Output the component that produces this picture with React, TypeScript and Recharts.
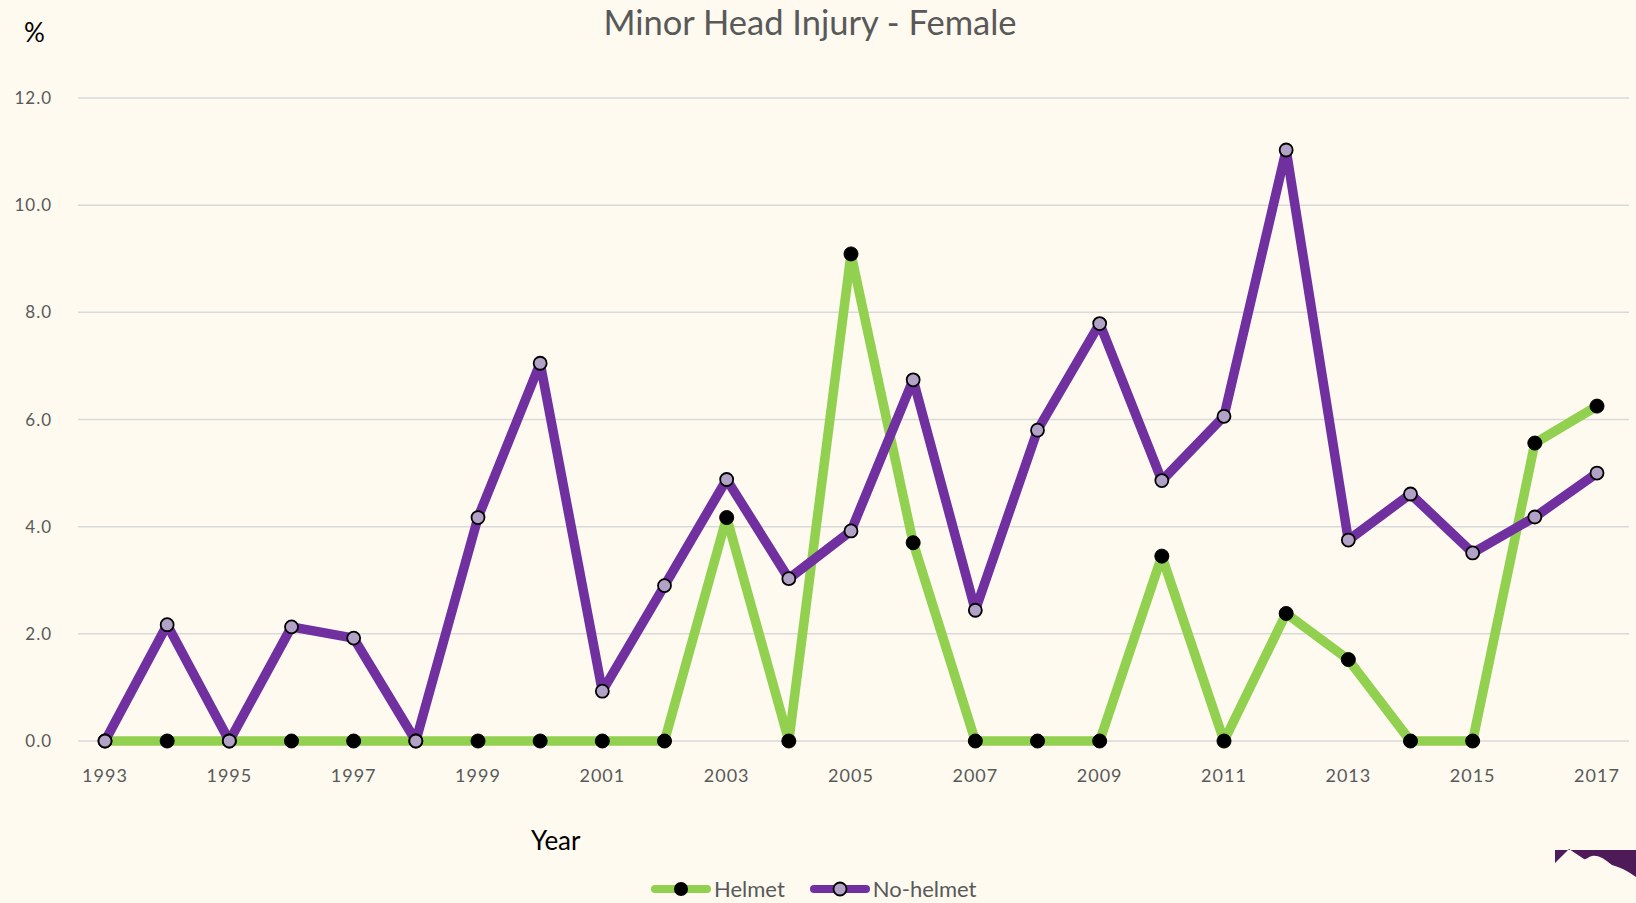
import React from 'react';
import { LineChart, Line, XAxis, YAxis, CartesianGrid } from 'recharts';

const years = ['1993','1994','1995','1996','1997','1998','1999','2000','2001','2002','2003','2004','2005','2006','2007','2008','2009','2010','2011','2012','2013','2014','2015','2016','2017'];
const helmet = [0,0,0,0,0,0,0,0,0,0,4.17,0,9.09,3.70,0,0,0,3.45,0,2.38,1.52,0,0,5.56,6.25];
const noHelmet = [0,2.17,0,2.13,1.92,0,4.17,7.05,0.93,2.90,4.88,3.03,3.92,6.74,2.44,5.80,7.79,4.86,6.06,11.03,3.75,4.61,3.51,4.18,5.00];
const yTicks = [0,2,4,6,8,10,12];

const data = years.map((y, i) => ({ year: y, Helmet: helmet[i], 'No-helmet': noHelmet[i] }));

const BG = '#fefaef';
const GREEN = '#92d050';
const PURPLE = '#7030a0';
const FONT = 'Lato, "Open Sans", sans-serif';

const HelmetDot = (p: any) => (
  <circle key={`h${p.index}`} cx={p.cx} cy={p.cy} r={7} fill="#000" stroke="#000" strokeWidth={1} />
);
const NoHelmetDot = (p: any) => (
  <circle key={`n${p.index}`} cx={p.cx} cy={p.cy} r={6.5} fill="#b3a2c7" stroke="#000" strokeWidth={1.8} />
);

export default function App() {
  return (
    <div style={{ position: 'absolute', left: 0, top: 0, width: 1636, height: 903, background: BG, overflow: 'hidden', fontFamily: FONT }}>
      <div style={{ position: 'absolute', left: 0, width: 1636, top: 1, textAlign: 'center', fontSize: 34.5, color: '#595959', lineHeight: '42px' }}>
        <span style={{ position: 'relative', left: -8 }}>Minor Head Injury - Female</span>
      </div>
      <div style={{ position: 'absolute', left: 24, top: 16, fontSize: 26, color: '#000' }}>%</div>
      <div style={{ position: 'absolute', left: 531, top: 824, fontSize: 26, color: '#000' }}>Year</div>
      <div style={{ position: 'absolute', left: 0, top: 0 }}>
        <LineChart width={1636} height={903} data={data} margin={{ top: 98, right: 7, bottom: 0, left: 8 }}>
          <CartesianGrid vertical={false} stroke="#d9d9d9" strokeWidth={1.5} />
          <XAxis
            dataKey="year"
            interval={1}
            axisLine={false}
            tickLine={false}
            tickSize={0}
            tickMargin={28}
            height={162}
            padding={{ left: 27, right: 32 }}
            tick={{ fill: '#595959', fontSize: 18, fontFamily: FONT, letterSpacing: 1 }}
          />
          <YAxis
            domain={[0, 12]}
            ticks={yTicks}
            width={70}
            axisLine={false}
            tickLine={false}
            tickSize={0}
            tickMargin={26}
            tickFormatter={(v: number) => v.toFixed(1)}
            tick={{ fill: '#595959', fontSize: 17, fontFamily: FONT, letterSpacing: 1 }}
          />
          <Line type="linear" dataKey="Helmet" stroke={GREEN} strokeWidth={9.5} strokeLinejoin="round" dot={HelmetDot} activeDot={false} isAnimationActive={false} />
          <Line type="linear" dataKey="No-helmet" stroke={PURPLE} strokeWidth={9.5} strokeLinejoin="round" dot={NoHelmetDot} activeDot={false} isAnimationActive={false} />
        </LineChart>
      </div>
      <div style={{ position: 'absolute', top: 876, left: 650, display: 'flex', alignItems: 'center', fontSize: 22, color: '#595959', lineHeight: '26px' }}>
        <svg width={62} height={16} style={{ marginRight: 2 }}>
          <line x1={5} y1={8} x2={57} y2={8} stroke={GREEN} strokeWidth={8} strokeLinecap="round" />
          <circle cx={31} cy={8} r={7} fill="#000" />
        </svg>
        <span>Helmet</span>
        <svg width={62} height={16} style={{ marginLeft: 24, marginRight: 2 }}>
          <line x1={5} y1={8} x2={57} y2={8} stroke={PURPLE} strokeWidth={8} strokeLinecap="round" />
          <circle cx={31} cy={8} r={6.5} fill="#b3a2c7" stroke="#000" strokeWidth={1.8} />
        </svg>
        <span>No-helmet</span>
      </div>
      <svg style={{ position: 'absolute', left: 1550, top: 845 }} width={86} height={40}>
        <path d="M5 5 L86 5 L86 32 C78 26 70 22 62 20 C55 15 50 10 42 11 C38 12 36 15 34 14 L19 4 L5 18 Z" fill="#4f1a58" />
      </svg>
    </div>
  );
}
